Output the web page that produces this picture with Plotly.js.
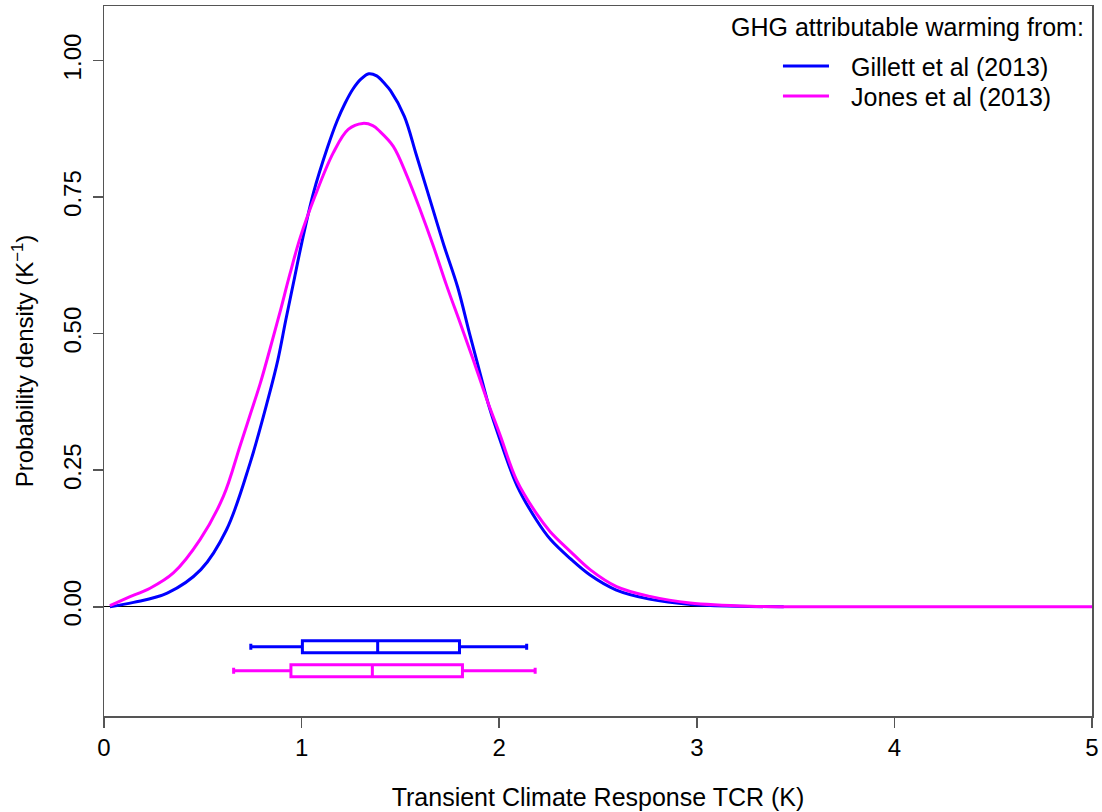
<!DOCTYPE html>
<html>
<head>
<meta charset="utf-8">
<script src="https://cdn.plot.ly/plotly-3.0.1.min.js"></script>
<style>html,body{margin:0;padding:0;background:#fff;}#chart{width:1102px;height:812px;}</style>
</head>
<body>
<div id="chart"></div>
<script>
// Gillett et al (2013) density
const gillettX = [0.03, 0.15, 0.32, 0.49, 0.62, 0.74, 0.83, 0.88, 0.92, 0.96, 1.00, 1.06, 1.13, 1.18, 1.22, 1.26, 1.30, 1.34, 1.38, 1.42, 1.45, 1.52, 1.58, 1.65, 1.72, 1.79, 1.85, 1.90, 1.95, 2.00, 2.09, 2.19, 2.26, 2.36, 2.46, 2.59, 2.76, 2.97, 3.20, 3.44];
const gillettY = [0.000, 0.008, 0.025, 0.068, 0.141, 0.264, 0.380, 0.452, 0.525, 0.595, 0.665, 0.758, 0.840, 0.890, 0.922, 0.948, 0.966, 0.976, 0.972, 0.958, 0.945, 0.898, 0.828, 0.745, 0.662, 0.585, 0.500, 0.432, 0.365, 0.310, 0.222, 0.158, 0.123, 0.088, 0.058, 0.031, 0.014, 0.004, 0.001, 0.000];
// Jones et al (2013) density
const jonesX = [0.03, 0.115, 0.233, 0.351, 0.486, 0.604, 0.688, 0.74, 0.79, 0.84, 0.891, 0.94, 0.992, 1.068, 1.16, 1.236, 1.309, 1.36, 1.397, 1.464, 1.532, 1.60, 1.667, 1.734, 1.802, 1.869, 1.937, 2.004, 2.088, 2.19, 2.257, 2.358, 2.46, 2.594, 2.763, 2.966, 3.27, 3.6, 4.0, 4.5, 5.0];
const jonesY = [0.002, 0.016, 0.034, 0.062, 0.123, 0.202, 0.294, 0.352, 0.408, 0.472, 0.540, 0.608, 0.675, 0.752, 0.831, 0.874, 0.885, 0.881, 0.870, 0.843, 0.790, 0.727, 0.660, 0.588, 0.520, 0.452, 0.380, 0.315, 0.232, 0.170, 0.138, 0.102, 0.068, 0.037, 0.019, 0.007, 0.001, 0.000, 0.000, 0.000, 0.000];

// Box plot summaries: [lower whisker, q1, median, q3, upper whisker]
const seriesNames = ["Gillett et al (2013)", "Jones et al (2013)"];
const seriesColors = ["#0000FF", "#FF00FF"];
const boxStats = {
  lower: [0.743, 0.656],
  q1: [1.004, 0.946],
  median: [1.385, 1.358],
  q3: [1.799, 1.814],
  upper: [2.139, 2.182]
};
const boxPos = [-0.073, -0.117];

const xTicks = [0, 1, 2, 3, 4, 5];
const yTicks = [0, 0.25, 0.5, 0.75, 1.0];
const yTickText = ["0.00", "0.25", "0.50", "0.75", "1.00"];

const FONT = "Liberation Sans, Arial, sans-serif";

const traces = [
  {x: gillettX, y: gillettY, type: "scatter", mode: "lines", name: seriesNames[0],
   line: {color: seriesColors[0], width: 3, shape: "spline", smoothing: 1}, showlegend: false, hoverinfo: "x+y"},
  {x: jonesX, y: jonesY, type: "scatter", mode: "lines", name: seriesNames[1],
   line: {color: seriesColors[1], width: 3, shape: "spline", smoothing: 1}, showlegend: false, hoverinfo: "x+y"}
];
for (let i = 0; i < 2; i++) {
  traces.push({
    type: "box", orientation: "h", name: seriesNames[i],
    y: [boxPos[i]],
    lowerfence: [boxStats.lower[i]], q1: [boxStats.q1[i]], median: [boxStats.median[i]],
    q3: [boxStats.q3[i]], upperfence: [boxStats.upper[i]],
    width: 0.022, whiskerwidth: 0.5,
    line: {color: seriesColors[i], width: 3}, fillcolor: "rgba(255,255,255,0)",
    boxpoints: false, showlegend: false
  });
}

const legendLines = [0.9155, 0.8732];
const shapes = [];
const annotations = [{
  xref: "paper", yref: "paper", x: 0.9935, y: 0.9704, xanchor: "right", yanchor: "middle",
  text: "GHG attributable warming from:", showarrow: false, font: {family: FONT, size: 25, color: "#000"}
}];
for (let i = 0; i < 2; i++) {
  shapes.push({type: "line", xref: "paper", yref: "paper", x0: 0.6872, x1: 0.7338,
    y0: legendLines[i], y1: legendLines[i], line: {color: seriesColors[i], width: 3}});
  annotations.push({xref: "paper", yref: "paper", x: 0.7541, y: legendLines[i] - 0.001,
    xanchor: "left", yanchor: "middle", text: seriesNames[i], showarrow: false,
    font: {family: FONT, size: 25, color: "#000"}});
}

const layout = {
  width: 1102, height: 812,
  margin: {l: 104, r: 10, t: 6, b: 96, pad: 0},
  paper_bgcolor: "#fff", plot_bgcolor: "#fff",
  font: {family: FONT, size: 24, color: "#000"},
  showlegend: false,
  xaxis: {
    range: [0, 5], tickvals: xTicks, ticktext: xTicks.map(String),
    showgrid: false, zeroline: false, showline: true, mirror: true,
    linecolor: "#555", linewidth: 1.5, ticks: "outside", ticklen: 10, tickwidth: 1.5, tickcolor: "#555",
    tickfont: {family: FONT, size: 24, color: "#000"},
    title: {text: "Transient Climate Response TCR (K)", font: {family: FONT, size: 25, color: "#000"}, standoff: 28},
    automargin: false
  },
  yaxis: {
    range: [-0.2, 1.1], tickvals: yTicks, ticktext: yTickText, tickangle: -90,
    showgrid: false, zeroline: true, zerolinecolor: "#000", zerolinewidth: 1,
    showline: true, mirror: true,
    linecolor: "#555", linewidth: 1.5, ticks: "outside", ticklen: 10, tickwidth: 1.5, tickcolor: "#555",
    tickfont: {family: FONT, size: 24, color: "#000"}, ticklabelstandoff: 2,
    title: {text: "Probability density (K<sup>\u22121</sup>)", font: {family: FONT, size: 24, color: "#000"}, standoff: 18},
    automargin: false
  },
  shapes: shapes,
  annotations: annotations
};

Plotly.newPlot("chart", traces, layout, {displayModeBar: false, staticPlot: true});
</script>
</body>
</html>
